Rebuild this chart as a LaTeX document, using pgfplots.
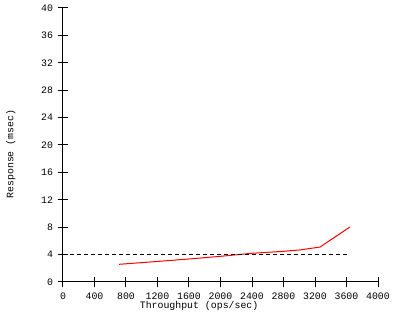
\documentclass[border=0pt]{standalone}
\usepackage{pgfplots}
\pgfplotsset{compat=1.18}
\usepackage{fontspec}
\setmainfont{Liberation Mono}
\begin{document}
\begin{tikzpicture}[x=1pt,y=1pt]
\useasboundingbox (-47.25pt,-28.5pt) rectangle (252.75pt,211.5pt);
\begin{axis}[
  scale only axis,
  width=236.25pt, height=205.5pt,
  xmin=0, xmax=4000, ymin=0, ymax=40,
  axis x line*=bottom, axis y line*=left,
  axis line style={-, line width=0.75pt},
  every tick/.style={black, line width=0.75pt},
  tick align=center, major tick length=8pt,
  xtick={0,400,...,4000}, ytick={0,4,...,40},
  font=\fontsize{7.4}{8}\selectfont,
  /pgf/number format/assume math mode=true,
  /pgf/number format/1000 sep={},
  xticklabel style={yshift=-1pt},
  xlabel={Throughput (ops/sec)},
  ylabel={Response (msec)},
  xlabel style={at={(axis description cs:0.432,0)}, anchor=center, yshift=-18pt},
  ylabel style={at={(axis description cs:-0.166,0.467)}, anchor=center},
  clip=false,
]
\addplot[red, line width=0.75pt] coordinates {
(711,2.58) (1200,3.0) (1600,3.36) (2000,3.75) (2400,4.19) (2800,4.48) (3000,4.67) (3263,5.1) (3644,8.03)
};
\addplot[black, line width=0.75pt, dash pattern=on 3pt off 2.25pt] coordinates {(0,4) (3644,4)};
\end{axis}
\end{tikzpicture}
\end{document}
